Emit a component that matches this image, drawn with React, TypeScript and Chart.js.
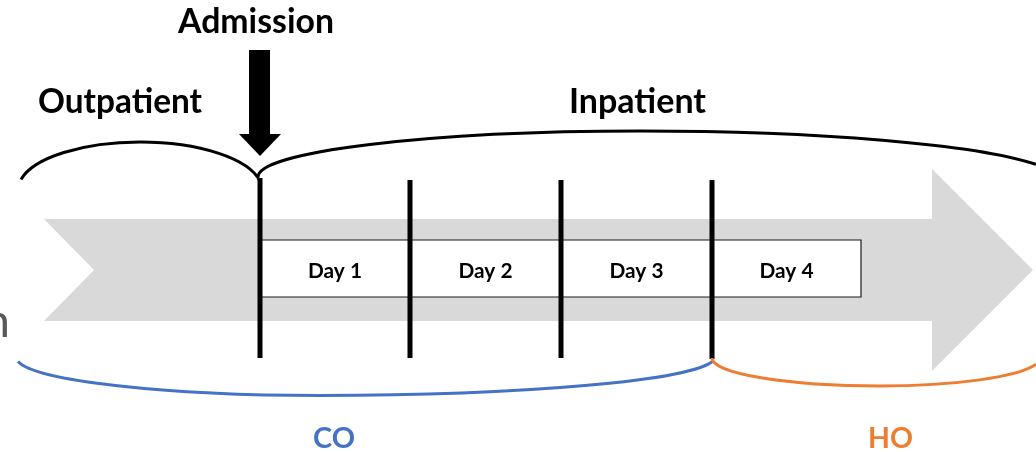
import React, { useEffect, useRef } from "react";
import { Chart, registerables } from "chart.js";

Chart.register(...registerables);

const W = 1036;
const H = 452;

// Gray timeline arrow (outline vertices)
const TIMELINE_X = [44, 932, 932, 1033, 932, 932, 44, 94, 44];
const TIMELINE_Y = [219, 219, 169, 270, 371, 321, 321, 270, 219];

// Day boxes
const DAY_LABELS = ["Day 1", "Day 2", "Day 3", "Day 4"];
const DAY_EDGES = [260, 410, 561, 712, 861];
const DAY_BOX_TOP = 240;
const DAY_BOX_BOTTOM = 297;

// Thick day dividers
const DIVIDER_X = [260, 410, 561, 712];
const DIVIDER_TOP = [178, 180, 180, 180];
const DIVIDER_BOTTOM = [358, 358, 358, 359];

// Admission arrow (outline vertices)
const ADMIT_X = [249, 270, 270, 281, 260, 239, 249, 249];
const ADMIT_Y = [50, 50, 134, 134, 156, 134, 134, 50];

// Braces (two elliptical halves meeting at a peak)
const BRACE_NAMES = ["Outpatient", "Inpatient", "CO", "HO"];
const BRACE_PEAK_X = [140, 640, 320, 880];
const BRACE_PEAK_Y = [142, 131, 395.5, 386];
const BRACE_DIR = [-1, -1, 1, 1];
const BRACE_LEFT_RX = [122, 382, 304, 168];
const BRACE_LEFT_RY = [48, 46, 38.5, 28];
const BRACE_LEFT_END = [21, 258, 18, 712];
const BRACE_RIGHT_RX = [122, 420, 395, 160];
const BRACE_RIGHT_RY = [48, 50, 38.5, 28];
const BRACE_RIGHT_END = [260, 1036, 713, 1036];
const BRACE_COLORS = ["#000000", "#000000", "#4472C4", "#ED7D31"];

// Labels
const LABELS = ["Admission", "Outpatient", "Inpatient", "CO", "HO"];
const LABEL_X = [256, 120, 637.5, 334, 890.5];
const LABEL_Y = [32.5, 113, 113, 448, 448];
const LABEL_WIDTH = [156, 164, 137, 42, 45];
const LABEL_COLORS = ["#000000", "#000000", "#000000", "#4472C4", "#ED7D31"];
const DAY_LABEL_Y = 278;
const DAY_LABEL_WIDTH = 54;

const FAMILY = "Lato, 'Open Sans', sans-serif";

const toPts = (xs: number[], ys: number[]) => xs.map((x, i) => ({ x, y: ys[i] }));

function fitSize(ctx: CanvasRenderingContext2D, text: string, weight: string, target: number) {
  ctx.font = `${weight} 100px ${FAMILY}`;
  const w = ctx.measureText(text).width;
  return (100 * target) / w;
}

const overlayPlugin = {
  id: "overlay",
  afterDatasetsDraw(chart: any) {
    const ctx: CanvasRenderingContext2D = chart.ctx;
    const xs = chart.scales.x;
    const ys = chart.scales.y;
    const px = (v: number) => xs.getPixelForValue(v);
    const py = (v: number) => ys.getPixelForValue(v);
    ctx.save();

    // braces
    BRACE_NAMES.forEach((_, i) => {
      const pkx = BRACE_PEAK_X[i];
      const pky = BRACE_PEAK_Y[i];
      const dir = BRACE_DIR[i];
      const lrx = BRACE_LEFT_RX[i];
      const lry = BRACE_LEFT_RY[i];
      const rrx = BRACE_RIGHT_RX[i];
      const rry = BRACE_RIGHT_RY[i];
      const lcy = dir < 0 ? pky + lry : pky - lry;
      const rcy = dir < 0 ? pky + rry : pky - rry;
      const lu = Math.max(-1, Math.min(1, (BRACE_LEFT_END[i] - pkx) / lrx));
      const ru = Math.max(-1, Math.min(1, (BRACE_RIGHT_END[i] - pkx) / rrx));
      const cxp = px(pkx);
      const lrxp = Math.abs(px(pkx + lrx) - cxp);
      const lryp = Math.abs(py(lcy + lry) - py(lcy));
      const rrxp = Math.abs(px(pkx + rrx) - cxp);
      const rryp = Math.abs(py(rcy + rry) - py(rcy));
      ctx.beginPath();
      if (dir < 0) {
        const a0 = -Math.acos(lu);
        const a1 = -Math.acos(ru);
        ctx.ellipse(cxp, py(lcy), lrxp, lryp, 0, a0, -Math.PI / 2, false);
        ctx.ellipse(cxp, py(rcy), rrxp, rryp, 0, -Math.PI / 2, a1, false);
      } else {
        const aL = Math.acos(lu);
        const aR = Math.acos(ru);
        ctx.ellipse(cxp, py(lcy), lrxp, lryp, 0, aL, Math.PI / 2, true);
        ctx.ellipse(cxp, py(rcy), rrxp, rryp, 0, Math.PI / 2, aR, true);
      }
      ctx.strokeStyle = BRACE_COLORS[i];
      ctx.lineWidth = 3;
      ctx.lineCap = "butt";
      ctx.lineJoin = "miter";
      ctx.stroke();
    });

    // labels
    ctx.textAlign = "center";
    ctx.textBaseline = "alphabetic";
    LABELS.forEach((t, i) => {
      const size = fitSize(ctx, t, "bold", LABEL_WIDTH[i]);
      ctx.font = `bold ${size}px ${FAMILY}`;
      ctx.fillStyle = LABEL_COLORS[i];
      ctx.fillText(t, px(LABEL_X[i]), py(LABEL_Y[i]));
    });

    // day labels
    const daySize = fitSize(ctx, DAY_LABELS[0], "bold", DAY_LABEL_WIDTH);
    ctx.font = `bold ${daySize}px ${FAMILY}`;
    ctx.fillStyle = "#000000";
    DAY_LABELS.forEach((t, i) => {
      const cx = (DAY_EDGES[i] + DAY_EDGES[i + 1]) / 2;
      ctx.fillText(t, px(cx), py(DAY_LABEL_Y));
    });

    // clipped gray text at left edge
    ctx.font = `normal 47px ${FAMILY}`;
    ctx.fillStyle = "#595959";
    ctx.textAlign = "right";
    ctx.fillText("n", px(10), py(337));

    ctx.restore();
  },
};

export default function App() {
  const ref = useRef<HTMLCanvasElement | null>(null);

  useEffect(() => {
    document.body.style.margin = "0";
    const canvas = ref.current;
    if (!canvas) return;

    const boxX = [DAY_EDGES[0], DAY_EDGES[DAY_EDGES.length - 1], DAY_EDGES[DAY_EDGES.length - 1], DAY_EDGES[0], DAY_EDGES[0]];
    const boxY = [DAY_BOX_TOP, DAY_BOX_TOP, DAY_BOX_BOTTOM, DAY_BOX_BOTTOM, DAY_BOX_TOP];

    const datasets: any[] = [
      {
        label: "Admission arrow",
        data: toPts(ADMIT_X, ADMIT_Y),
        showLine: true,
        fill: "shape",
        backgroundColor: "#000000",
        borderColor: "rgba(0,0,0,0)",
        borderWidth: 1,
        order: 1,
      },
      ...DIVIDER_X.map((x, i) => ({
        label: `Divider ${i + 1}`,
        data: [
          { x, y: DIVIDER_TOP[i] },
          { x, y: DIVIDER_BOTTOM[i] },
        ],
        showLine: true,
        fill: false,
        borderColor: "#000000",
        borderWidth: 5,
        borderCapStyle: "butt",
        order: 2,
      })),
      {
        label: "Days",
        data: toPts(boxX, boxY),
        showLine: true,
        fill: "shape",
        backgroundColor: "#FFFFFF",
        borderColor: "#1a1a1a",
        borderWidth: 1.2,
        order: 3,
      },
      {
        label: "Timeline",
        data: toPts(TIMELINE_X, TIMELINE_Y),
        showLine: true,
        fill: "shape",
        backgroundColor: "#D9D9D9",
        borderColor: "rgba(0,0,0,0)",
        borderWidth: 1,
        order: 4,
      },
    ];

    const chart = new Chart(canvas, {
      type: "scatter",
      data: { datasets },
      options: {
        responsive: false,
        maintainAspectRatio: false,
        animation: false,
        events: [],
        layout: { padding: 0 },
        elements: { point: { radius: 0, hoverRadius: 0 }, line: { tension: 0 } },
        plugins: { legend: { display: false }, tooltip: { enabled: false } },
        scales: {
          x: { type: "linear", min: 0, max: W, display: false },
          y: { type: "linear", min: 0, max: H, reverse: true, display: false },
        },
      } as any,
      plugins: [overlayPlugin],
    });

    let alive = true;
    if ((document as any).fonts && (document as any).fonts.load) {
      Promise.all([
        (document as any).fonts.load("bold 30px Lato"),
        (document as any).fonts.load("normal 30px Lato"),
      ]).then(() => {
        if (alive) chart.draw();
      }).catch(() => {});
    }

    return () => {
      alive = false;
      chart.destroy();
    };
  }, []);

  return (
    <div style={{ width: W, height: H, background: "#ffffff" }}>
      <canvas ref={ref} width={W} height={H} style={{ display: "block" }} />
    </div>
  );
}
